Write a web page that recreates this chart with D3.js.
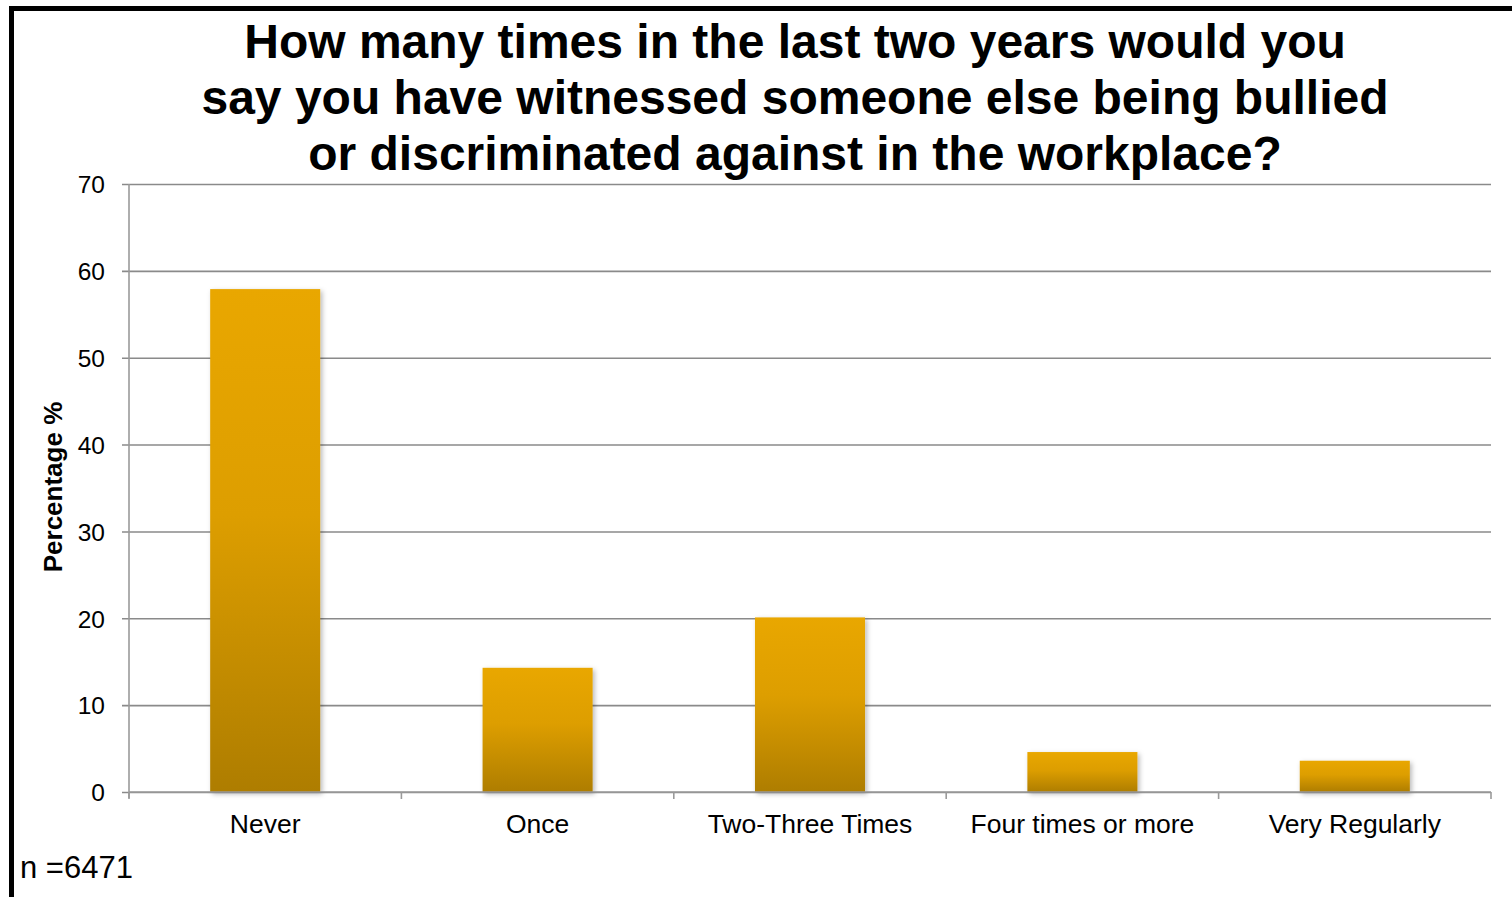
<!DOCTYPE html>
<html>
<head>
<meta charset="utf-8">
<script src="https://cdn.jsdelivr.net/npm/d3@7"></script>
<style>
  html, body { margin: 0; padding: 0; background: #fff; }
  svg { display: block; font-family: "Liberation Sans", Arial, sans-serif; }
</style>
</head>
<body>
<svg id="chart" width="1512" height="897"></svg>
<script>
// Survey responses: share of respondents (%) by frequency of witnessing bullying
const categories = ["Never", "Once", "Two-Three Times", "Four times or more", "Very Regularly"];
const percentages = [57.9, 14.3, 20.1, 4.6, 3.6];
const yTicks = [0, 10, 20, 30, 40, 50, 60, 70];
const titleLines = [
  "How many times in the last two years would you",
  "say you have witnessed someone else being bullied",
  "or discriminated against in the workplace?"
];
const yLabel = "Percentage %";
const sampleNote = "n =6471";

const svg = d3.select("#chart");
const W = 1512, H = 897;
const plot = { left: 129, right: 1491, top: 184, bottom: 792 };

const defs = svg.append("defs");
const grad = defs.append("linearGradient")
  .attr("id", "barFill").attr("x1", 0).attr("y1", 0).attr("x2", 0).attr("y2", 1);
grad.append("stop").attr("offset", "0%").attr("stop-color", "#e9a700");
grad.append("stop").attr("offset", "45%").attr("stop-color", "#dd9e00");
grad.append("stop").attr("offset", "100%").attr("stop-color", "#ae7d00");

const shadow = defs.append("filter").attr("id", "barShadow")
  .attr("x", "-10%").attr("y", "-10%").attr("width", "130%").attr("height", "130%");
shadow.append("feDropShadow")
  .attr("dx", 2).attr("dy", 2).attr("stdDeviation", 2.5)
  .attr("flood-color", "#000").attr("flood-opacity", 0.28);

// Outer frame: heavy black rule on the top and left edges
svg.append("path")
  .attr("d", `M11.5,${H} L11.5,8.5 L${W},8.5`)
  .attr("fill", "none").attr("stroke", "#000").attr("stroke-width", 5);

const x = d3.scaleBand()
  .domain(categories)
  .range([plot.left, plot.right])
  .paddingInner(0.596)
  .paddingOuter(0.298);

const y = d3.scaleLinear().domain([0, 70]).range([plot.bottom, plot.top]);

const gridColor = "#8a8a8a";

// Horizontal gridlines with short ticks left of the axis
const yAxis = d3.axisLeft(y)
  .tickValues(yTicks)
  .tickSize(-(plot.right - plot.left))
  .tickPadding(24)
  .tickFormat(d3.format("d"));

const gy = svg.append("g")
  .attr("transform", `translate(${plot.left},0)`)
  .call(yAxis);
gy.select(".domain").remove();
gy.selectAll(".tick line")
  .attr("x1", -7)
  .attr("stroke", gridColor).attr("stroke-width", 1.6);
gy.selectAll(".tick text")
  .attr("font-size", 24.5).attr("fill", "#000")
  .attr("font-family", "'Liberation Sans', Arial, sans-serif")
  .attr("dy", "0.36em");

// Vertical axis line
svg.append("line")
  .attr("x1", plot.left).attr("x2", plot.left)
  .attr("y1", plot.top).attr("y2", plot.bottom + 6)
  .attr("stroke", "#9a9a9a").attr("stroke-width", 1.6);

// Bars
svg.append("g").selectAll("rect")
  .data(percentages)
  .join("rect")
  .attr("x", (d, i) => x(categories[i]))
  .attr("y", d => y(d))
  .attr("width", x.bandwidth())
  .attr("height", d => y(0) - y(d))
  .attr("fill", "url(#barFill)")
  .attr("filter", "url(#barShadow)");

// Category axis: boundary ticks between categories, labels centred under bars
const step = x.step();
const boundaries = d3.range(categories.length + 1).map(i => plot.left + i * step);
const gx = svg.append("g");
gx.append("line")
  .attr("x1", plot.left).attr("x2", plot.right)
  .attr("y1", plot.bottom).attr("y2", plot.bottom)
  .attr("stroke", "#9a9a9a").attr("stroke-width", 1.6);
gx.selectAll("line.bnd")
  .data(boundaries)
  .join("line").attr("class", "bnd")
  .attr("x1", d => d).attr("x2", d => d)
  .attr("y1", plot.bottom).attr("y2", plot.bottom + 7)
  .attr("stroke", "#9a9a9a").attr("stroke-width", 1.6);
gx.selectAll("text")
  .data(categories)
  .join("text")
  .attr("x", d => x(d) + x.bandwidth() / 2)
  .attr("y", 833)
  .attr("text-anchor", "middle")
  .attr("font-size", 26.5)
  .attr("fill", "#000")
  .text(d => d);

// Title
svg.append("text")
  .attr("text-anchor", "middle")
  .attr("font-size", 48)
  .attr("font-weight", "bold")
  .attr("fill", "#000")
  .selectAll("tspan")
  .data(titleLines)
  .join("tspan")
  .attr("x", 795)
  .attr("y", (d, i) => 58 + i * 56)
  .text(d => d);

// Y axis label
svg.append("text")
  .attr("transform", "translate(62,487) rotate(-90)")
  .attr("text-anchor", "middle")
  .attr("font-size", 26)
  .attr("font-weight", "bold")
  .attr("fill", "#000")
  .text(yLabel);

// Sample size note
svg.append("text")
  .attr("x", 20).attr("y", 878)
  .attr("font-size", 31)
  .attr("fill", "#000")
  .text(sampleNote);
</script>
</body>
</html>
